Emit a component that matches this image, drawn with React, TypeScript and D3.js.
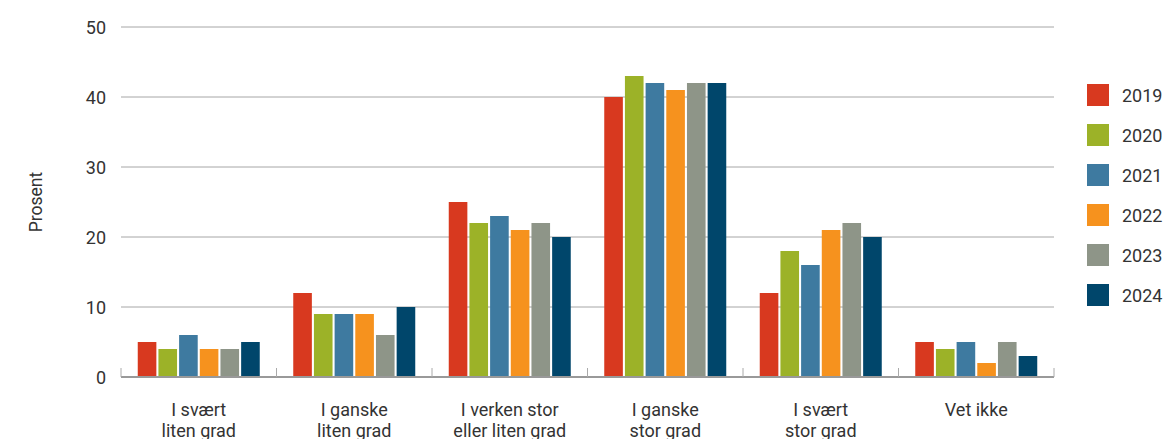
import React from "react";
import * as d3 from "d3";

const categories = [
  ["I svært", "liten grad"],
  ["I ganske", "liten grad"],
  ["I verken stor", "eller liten grad"],
  ["I ganske", "stor grad"],
  ["I svært", "stor grad"],
  ["Vet ikke"],
];
const years = ["2019", "2020", "2021", "2022", "2023", "2024"];
const colors = ["#d8391f", "#9cb228", "#3e7aa0", "#f6921e", "#8e9588", "#00466b"];
const values2019 = [5, 12, 25, 40, 12, 5];
const values2020 = [4, 9, 22, 43, 18, 4];
const values2021 = [6, 9, 23, 42, 16, 5];
const values2022 = [4, 9, 21, 41, 21, 2];
const values2023 = [4, 6, 22, 42, 22, 5];
const values2024 = [5, 10, 20, 42, 20, 3];
const series = [values2019, values2020, values2021, values2022, values2023, values2024];
const yTicks = [0, 10, 20, 30, 40, 50];

const W = 1167, H = 439;
const left = 121, right = 1054, top = 27, bottom = 377;
const FONT = "Roboto, sans-serif";

export default function App() {
  const catIdx = categories.map((_, i) => String(i));
  const x0 = d3.scaleBand().domain(catIdx).range([left, right]).padding(0);
  const groupW = 122;
  const x1 = d3.scaleBand().domain(years).range([0, groupW]).paddingInner(0.1);
  const y = d3.scaleLinear().domain([0, 50]).range([bottom, top]);
  const off = (x0.bandwidth() - groupW) / 2;

  return (
    <svg width={W} height={H} style={{ position: "absolute", left: 0, top: 0, background: "#fff" }}>
      {yTicks.slice(1).map((t) => (
        <line key={t} x1={left} x2={right} y1={y(t)} y2={y(t)} stroke="#a6a6a6" strokeWidth={1} />
      ))}
      {yTicks.map((t) => (
        <text key={t} x={106} y={y(t)} textAnchor="end" dominantBaseline="central" fontFamily={FONT} fontSize={18} fill="#333">
          {t}
        </text>
      ))}
      <text transform={`translate(42,${(top + bottom) / 2}) rotate(-90)`} textAnchor="middle" fontFamily={FONT} fontSize={17.5} fill="#333">
        Prosent
      </text>
      {series.map((vals, si) =>
        vals.map((v, ci) => (
          <rect
            key={`${si}-${ci}`}
            x={(x0(String(ci)) as number) + off + (x1(years[si]) as number)}
            y={y(v)}
            width={x1.bandwidth()}
            height={y(0) - y(v)}
            fill={colors[si]}
          />
        ))
      )}
      <line x1={left} x2={right} y1={bottom} y2={bottom} stroke="#999" strokeWidth={2} />
      {d3.range(categories.length + 1).map((i) => {
        const xx = left + i * x0.step();
        return <line key={i} x1={xx} x2={xx} y1={bottom - 9} y2={bottom} stroke="#aaa" strokeWidth={1} />;
      })}
      {categories.map((lines, ci) => (
        <text key={ci} textAnchor="middle" fontFamily={FONT} fontSize={18} fill="#333">
          {lines.map((l, li) => (
            <tspan key={li} x={(x0(String(ci)) as number) + x0.bandwidth() / 2} y={416 + li * 21}>
              {l}
            </tspan>
          ))}
        </text>
      ))}
      {years.map((yr, i) => (
        <g key={yr} transform={`translate(1087,${84 + i * 40})`}>
          <rect width={22} height={22} fill={colors[i]} />
          <text x={35} y={11} dominantBaseline="central" fontFamily={FONT} fontSize={18} fill="#333">
            {yr}
          </text>
        </g>
      ))}
    </svg>
  );
}
